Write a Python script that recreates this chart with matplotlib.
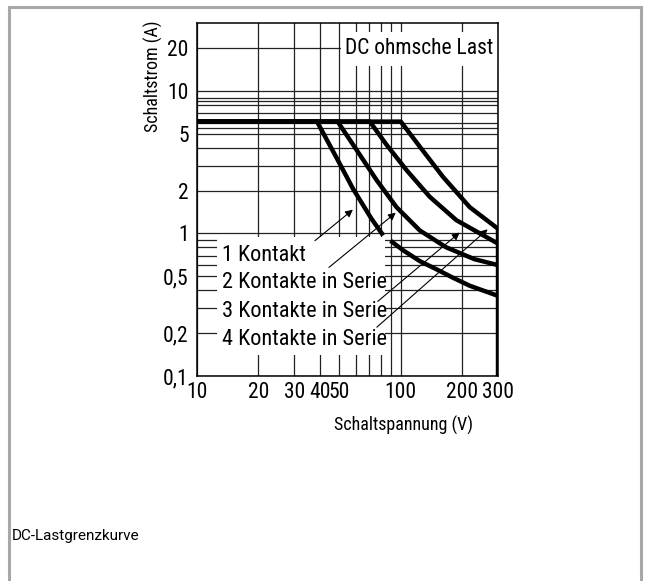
import matplotlib
matplotlib.use("Agg")
import matplotlib.pyplot as plt
from matplotlib import font_manager
from matplotlib.patches import Rectangle
from matplotlib.lines import Line2D
from matplotlib.ticker import NullFormatter

# Schaltspannung (V) / Schaltstrom (A)
rated_current = 6.1

c1a_v = [10, 38.8, 48.4, 58.4, 71.8, 82]
c1a_i = [6.1, 6.1, 3.4, 2.05, 1.27, 0.97]
c1b_v = [89, 103, 124, 150, 180, 218, 300]
c1b_i = [0.89, 0.76, 0.64, 0.56, 0.49, 0.43, 0.365]
c2_v = [10, 49, 60.6, 76.1, 95.3, 124, 167, 230, 300]
c2_i = [6.1, 6.1, 3.87, 2.37, 1.53, 1.05, 0.80, 0.66, 0.60]
c3_v = [10, 70.5, 85.1, 106.6, 138.7, 187.4, 283, 300]
c3_i = [6.1, 6.1, 4.2, 2.79, 1.81, 1.24, 0.89, 0.85]
c4_v = [10, 100, 123.8, 161, 218, 300]
c4_i = [6.1, 6.1, 4.08, 2.50, 1.53, 1.08]
limit_v = [300, 300]
limit_i = [0.1, 1.08]

labels = ["1 Kontakt", "2 Kontakte in Serie", "3 Kontakte in Serie", "4 Kontakte in Serie"]
label_i = [0.70, 0.452, 0.285, 0.181]
arrow_from = [(37.9, 0.89), (44.4, 0.578), (77.1, 0.334), (76.3, 0.22)]
arrow_to = [(58.2, 1.47), (94.5, 1.40), (194.6, 1.016), (266.8, 1.07)]

x_ticks = [10, 20, 30, 40, 50, 100, 200, 300]
x_ticklabels = ["10", "20", "30", "40", "50", "100", "200", "300"]
x_grid = [20, 30, 40, 50, 60, 70, 80, 90, 100, 200]
y_ticks = [0.1, 0.2, 0.5, 1, 2, 5, 10, 20]
y_ticklabels = ["0,1", "0,2", "0,5", "1", "2", "5", "10", "20"]
y_grid = [0.2, 0.3, 0.4, 0.5, 0.6, 0.7, 0.8, 0.9, 1, 2, 3, 4, 5, 5.5, 6, 7, 8, 8.5, 9, 10, 20]

# narrow font if there is one
available = {f.name for f in font_manager.fontManager.ttflist}
narrow = dict(family="DejaVu Sans", stretch="condensed")
for name in ["Roboto Condensed", "Liberation Sans Narrow", "Open Sans Condensed"]:
    if name in available:
        narrow = dict(family=name)
        break

fig = plt.figure(figsize=(6.51, 5.81), dpi=100)
ax = fig.add_axes([197 / 651, (581 - 376) / 581, 301 / 651, 353 / 581])
ax.set_xscale("log")
ax.set_yscale("log")
ax.set_xlim(10, 300)
ax.set_ylim(0.1, 30)

ax.set_xticks(x_ticks)
ax.set_xticklabels(x_ticklabels, fontsize=15.5, **narrow)
ax.set_xticks(x_grid, minor=True)
ax.set_yticks(y_ticks)
ax.set_yticklabels(y_ticklabels, fontsize=15.5, **narrow)
ax.set_yticks(y_grid, minor=True)
ax.xaxis.set_minor_formatter(NullFormatter())
ax.yaxis.set_minor_formatter(NullFormatter())
ax.tick_params(which="both", length=0)
ax.tick_params(axis="x", pad=4)
ax.tick_params(axis="y", pad=6)
ax.grid(which="both", color="#222222", lw=0.9)
ax.set_axisbelow(True)
for s in ax.spines.values():
    s.set_linewidth(1.1)

# white areas behind the texts
ax.add_patch(Rectangle((51, 15), 300 - 51, 26 - 15, facecolor="white", edgecolor="none", zorder=1))
ax.add_patch(Rectangle((12.5, 0.14), 84 - 12.5, 0.95 - 0.14, facecolor="white", edgecolor="none", zorder=1))

for v, i in [(c1a_v, c1a_i), (c1b_v, c1b_i), (c2_v, c2_i), (c3_v, c3_i), (c4_v, c4_i), (limit_v, limit_i)]:
    ax.plot(v, i, color="black", lw=3.2, zorder=3, solid_capstyle="butt", solid_joinstyle="round")

ax.text(53, 20, "DC ohmsche Last", ha="left", va="center", fontsize=15.5, zorder=4, **narrow)
for lab, yi in zip(labels, label_i):
    ax.text(13.3, yi, lab, ha="left", va="center", fontsize=16, zorder=4, **narrow)
for p0, p1 in zip(arrow_from, arrow_to):
    ax.annotate("", xy=p1, xytext=p0,
                arrowprops=dict(arrowstyle="-|>", color="black", lw=0.8, mutation_scale=11,
                                shrinkA=0, shrinkB=0), zorder=4)

fig.text(153 / 651, 1 - 76 / 581, "Schaltstrom (A)", rotation=90, ha="center", va="center",
         fontsize=13, **narrow)
fig.text(403 / 651, 1 - 425 / 581, "Schaltspannung (V)", ha="center", va="center",
         fontsize=13, **narrow)
fig.text(12 / 651, 1 - 536 / 581, "DC-Lastgrenzkurve", ha="left", va="center",
         fontsize=11, family="Roboto")

# grey frame of the page
frame = dict(transform=fig.transFigure, color="#a8a8a8", lw=2.2)
fig.add_artist(Line2D([9 / 651, 641 / 651], [1 - 7 / 581, 1 - 7 / 581], **frame))
fig.add_artist(Line2D([9 / 651, 9 / 651], [0, 1 - 7 / 581], **frame))
fig.add_artist(Line2D([641 / 651, 641 / 651], [0, 1 - 7 / 581], **frame))

fig.savefig("out.png", dpi=100)
